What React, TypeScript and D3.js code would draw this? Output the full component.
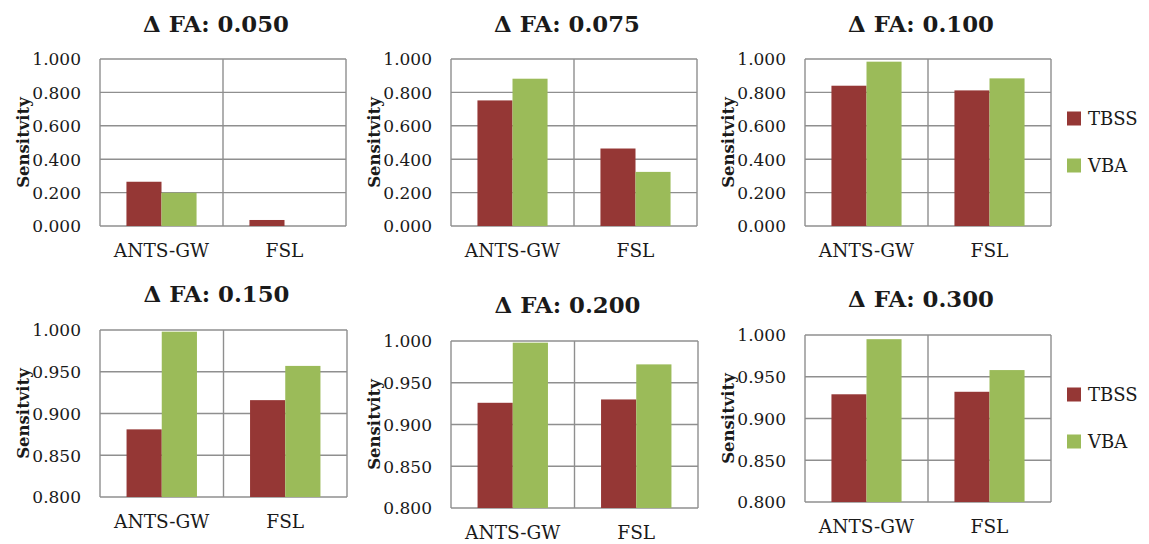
import * as d3 from "d3";

// categories and series
const categories = ["ANTS-GW", "FSL"];
const series = ["TBSS", "VBA"];
const deltaLabels = ["0.050", "0.075", "0.100", "0.150", "0.200", "0.300"];

// values per panel: [ANTS-GW, FSL]
const tbssValues = [
  [0.265, 0.036],
  [0.752, 0.464],
  [0.84, 0.812],
  [0.881, 0.916],
  [0.926, 0.93],
  [0.929, 0.932],
];
const vbaValues = [
  [0.199, 0.0],
  [0.882, 0.324],
  [0.984, 0.884],
  [0.998, 0.957],
  [0.998, 0.972],
  [0.995, 0.958],
];

// y ranges / ticks
const topDomain = [0, 1];
const topTicks = [0, 0.2, 0.4, 0.6, 0.8, 1.0];
const bottomDomain = [0.8, 1];
const bottomTicks = [0.8, 0.85, 0.9, 0.95, 1.0];

const colors = { TBSS: "#953735", VBA: "#9BBB59" };
const gridColor = "#8f8f8f";
const font = "DejaVu Serif";

// panel boxes (plot area) and title baseline
const layout = [
  { left: 100, right: 346, top: 59, bottom: 226, titleY: 32 },
  { left: 451, right: 697, top: 59, bottom: 226, titleY: 32 },
  { left: 805, right: 1051, top: 59, bottom: 226, titleY: 32 },
  { left: 100, right: 347, top: 330, bottom: 497, titleY: 302 },
  { left: 451, right: 698, top: 341, bottom: 508, titleY: 313 },
  { left: 805, right: 1051, top: 335, bottom: 502, titleY: 307 },
];

function Label({ x, y, anchor, size, weight, children }: any) {
  return (
    <text
      x={x}
      y={y}
      textAnchor={anchor}
      style={{ fontFamily: font, fontSize: size, fontWeight: weight || "normal" }}
      fill="#1a1a1a"
    >
      {children}
    </text>
  );
}

function Panel({ index }: { index: number }) {
  const box = layout[index];
  const isTop = index < 3;
  const domain = isTop ? topDomain : bottomDomain;
  const ticks = isTop ? topTicks : bottomTicks;

  const y = d3.scaleLinear().domain(domain).range([box.bottom, box.top]);
  const x0 = d3.scaleBand().domain(categories).range([box.left, box.right]);
  const bw = x0.bandwidth();
  const x1 = d3.scaleBand().domain(series).range([bw * 0.215, bw * 0.785]);

  const rows = categories.map((c, i) => ({
    category: c,
    TBSS: tbssValues[index][i],
    VBA: vbaValues[index][i],
  }));

  const fmt = d3.format(".3f");
  const midY = (box.top + box.bottom) / 2;

  return (
    <g>
      <Label x={(box.left + box.right) / 2 - 7} y={box.titleY} anchor="middle" size={22.8} weight="bold">
        {"\u0394 FA: " + deltaLabels[index]}
      </Label>

      {/* grid */}
      {ticks.map((t) => (
        <line key={t} x1={box.left} x2={box.right} y1={y(t)} y2={y(t)} stroke={gridColor} strokeWidth={1.4} />
      ))}
      <line x1={box.left} x2={box.left} y1={box.top} y2={box.bottom} stroke={gridColor} strokeWidth={1.4} />
      <line x1={box.right} x2={box.right} y1={box.top} y2={box.bottom} stroke={gridColor} strokeWidth={1.4} />
      {categories.slice(1).map((c) => (
        <line key={c} x1={x0(c)} x2={x0(c)} y1={box.top} y2={box.bottom} stroke={gridColor} strokeWidth={1.4} />
      ))}

      {/* bars */}
      {rows.map((r) =>
        series.map((s) => {
          const v = (r as any)[s];
          const yTop = y(v);
          return (
            <rect
              key={r.category + s}
              x={(x0(r.category) as number) + (x1(s) as number)}
              y={yTop}
              width={x1.bandwidth()}
              height={Math.max(0, box.bottom - yTop)}
              fill={(colors as any)[s]}
            />
          );
        })
      )}

      {/* y tick labels */}
      {ticks.map((t) => (
        <Label key={t} x={box.left - 19} y={y(t) + 6.3} anchor="end" size={17}>
          {fmt(t)}
        </Label>
      ))}

      {/* category labels */}
      {categories.map((c) => (
        <Label key={c} x={(x0(c) as number) + bw / 2} y={box.bottom + 31} anchor="middle" size={18.5}>
          {c}
        </Label>
      ))}

      <text
        transform={`translate(${box.left - 71},${midY}) rotate(-90)`}
        textAnchor="middle"
        style={{ fontFamily: font, fontSize: 16.5, fontWeight: "bold" }}
        fill="#1a1a1a"
      >
        Sensitvity
      </text>

      {/* legend for the right-hand panels */}
      {index % 3 === 2 &&
        series.map((s, i) => {
          const cy = midY - 24 + i * 47;
          return (
            <g key={s}>
              <rect x={1067} y={cy - 7} width={14} height={14} fill={(colors as any)[s]} />
              <Label x={1088} y={cy + 6.5} anchor="start" size={18}>
                {s}
              </Label>
            </g>
          );
        })}
    </g>
  );
}

export default function App() {
  return (
    <svg
      width={1149}
      height={544}
      style={{ position: "absolute", left: 0, top: 0, background: "#fff" }}
    >
      <rect width={1149} height={544} fill="#fff" />
      {deltaLabels.map((_, i) => (
        <Panel key={i} index={i} />
      ))}
    </svg>
  );
}
